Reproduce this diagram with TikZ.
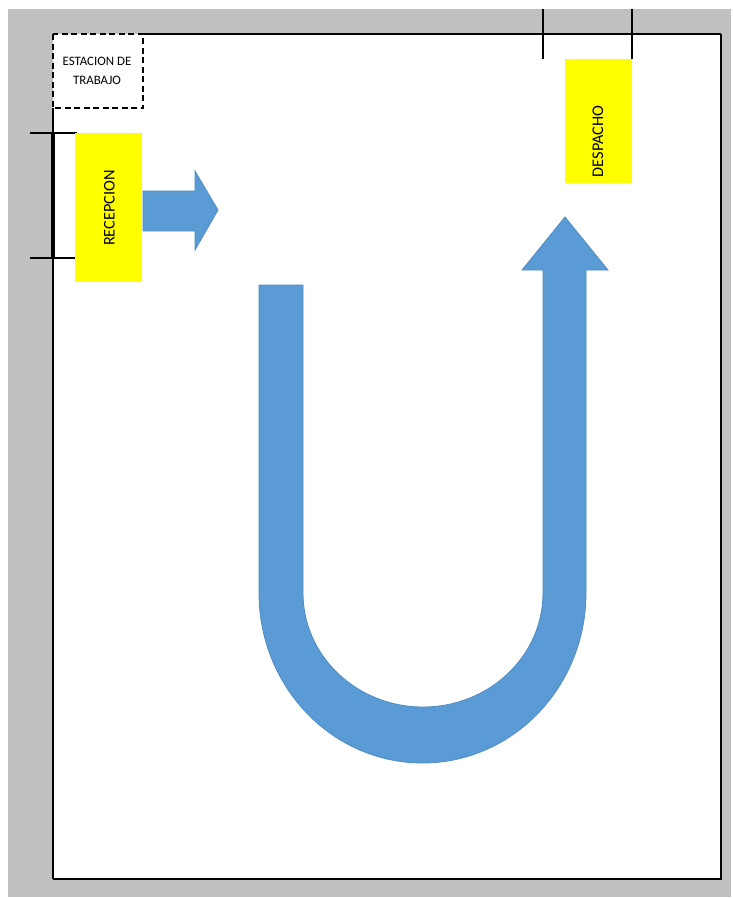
\documentclass[tikz,border=0pt]{standalone}
\usepackage{fontspec}
\setmainfont{Carlito}
\definecolor{pagegray}{HTML}{C0C0C0}
\definecolor{flowblue}{HTML}{5B9BD5}
\definecolor{flowedge}{HTML}{4F8CC6}
\definecolor{areayellow}{HTML}{FFFF00}
\tikzset{
  wall/.style={line width=1.5pt, black},
  flow/.style={fill=flowblue, draw=flowedge, line width=0.8pt, line join=miter},
  areabox/.style={fill=areayellow, draw=none},
  arealabel/.style={rotate=90, font=\fontsize{16.3}{18}\selectfont, inner sep=0pt},
}
\begin{document}
\begin{tikzpicture}[x=1pt,y=-1pt]
\useasboundingbox (0,0) rectangle (732,898);
\fill[white] (0,0) rectangle (732,898);
% gray background
\fill[pagegray] (8,9) rectangle (731,897);
% page
\fill[white] (53,34) rectangle (721,879);
\draw[wall] (143,34) -- (721,34);
\draw[line width=2pt] (721,34) -- (721,879) -- (53,879);
\draw[wall] (53,108) -- (53,879);
% thick wall segment with ticks
\draw[line width=3.5pt] (53,133) -- (53,258);
\draw[wall] (30,133) -- (77,133);
\draw[wall] (30,258) -- (77,258);
% top right ticks
\draw[wall] (543,9) -- (543,59);
\draw[wall] (632,9) -- (632,59);
% work station
\draw[line width=2.5pt, dash pattern=on 6pt off 3.5pt] (53,34) rectangle (143,108);
\node[align=center, font=\fontsize{12.9}{19}\selectfont, inner sep=0pt] (estacion) at (97,71) {ESTACION DE\\TRABAJO};
% yellow areas
\fill[areabox] (75,133) rectangle (142,282);
\node[arealabel] (recepcion) at (109.5,208) {RECEPCION};
\fill[areabox] (565,59) rectangle (632,183);
\node[arealabel] (despacho) at (598,141.5) {DESPACHO};
% right arrow
\path[flow] (143,191) -- (195,191) -- (195,171) -- (218,210) -- (195,250) -- (195,231) -- (143,231) -- cycle;
% U arrow
\path[flow] (259,285) -- (259,593)
  arc[start angle=180, end angle=360, x radius=163.5pt, y radius=170pt]
  -- (586,270) -- (608,270) -- (565,217) -- (522,270) -- (543,270) -- (543,593)
  arc[start angle=0, end angle=-180, x radius=120pt, y radius=114pt]
  -- (303,285) -- cycle;
\end{tikzpicture}
\end{document}
